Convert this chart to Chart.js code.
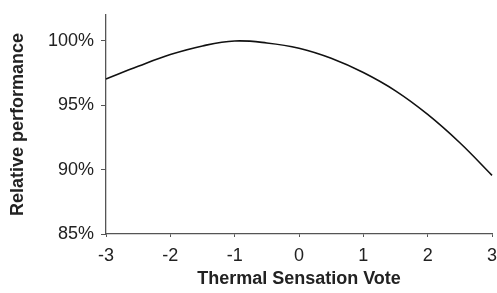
<!DOCTYPE html>
<html>
<head>
<meta charset="utf-8">
<script src="https://cdn.jsdelivr.net/npm/chart.js@4.4.1/dist/chart.umd.min.js"></script>
<style>
  html, body { margin: 0; padding: 0; background: #fff; }
  #wrap { width: 497px; height: 293px; position: relative; }
</style>
</head>
<body>
<div id="wrap"><canvas id="c" width="497" height="293"></canvas></div>
<script>
// Thermal Sensation Vote (x)
const tsv = [-3, -2.5, -2, -1.5, -1, -0.5, 0, 0.5, 1, 1.5, 2, 2.5, 3];
// Relative performance (%)
const relPerf = [97.04, 98.02, 98.93, 99.6, 99.98, 99.83, 99.42, 98.64, 97.53, 96.11, 94.28, 92.08, 89.55];
// Axis ticks
const xTicks = [-3, -2, -1, 0, 1, 2, 3];
const yTicks = [85, 90, 95, 100];

const points = tsv.map((x, i) => ({ x: x, y: relPerf[i] }));
const FONT = "'Liberation Sans', Arial, sans-serif";
const AXIS = '#555555';
const TXT = '#222222';

new Chart(document.getElementById('c'), {
  type: 'line',
  data: {
    datasets: [{
      data: points,
      borderColor: '#111111',
      borderWidth: 1.6,
      pointRadius: 0,
      tension: 0.4,
      fill: false,
      clip: false
    }]
  },
  options: {
    responsive: false,
    animation: false,
    devicePixelRatio: 1,
    plugins: { legend: { display: false }, tooltip: { enabled: false } },
    layout: { padding: { top: 15, right: 5, left: 0, bottom: 0 } },
    scales: {
      x: {
        type: 'linear',
        min: -3, max: 3,
        afterBuildTicks: s => { s.ticks = xTicks.map(v => ({ value: v })); },
        afterFit: s => { s.height = 59; s.paddingLeft = 0; s.paddingRight = 0; },
        grid: { drawOnChartArea: false, drawTicks: true, tickLength: 3, color: AXIS },
        border: { display: true, color: AXIS, width: 1.3 },
        ticks: { color: TXT, font: { family: FONT, size: 18 }, padding: 8, maxRotation: 0 },
        title: { display: true, text: 'Thermal Sensation Vote', color: TXT,
                 font: { family: FONT, size: 18, weight: 'bold' }, padding: { top: 0, bottom: 3 } }
      },
      y: {
        min: 85, max: 102,
        afterBuildTicks: s => { s.ticks = yTicks.map(v => ({ value: v })); },
        afterFit: s => { s.width = 106; s.paddingTop = 0; s.paddingBottom = 0; },
        grid: { drawOnChartArea: false, drawTicks: true, tickLength: 5, color: AXIS },
        border: { display: true, color: AXIS, width: 1.3 },
        ticks: { color: TXT, font: { family: FONT, size: 18 }, padding: 7,
                 callback: v => v + '%' },
        title: { display: true, text: 'Relative performance', color: TXT,
                 font: { family: FONT, size: 18, weight: 'bold' }, padding: { top: 7, bottom: 0 } }
      }
    }
  }
});
</script>
</body>
</html>
